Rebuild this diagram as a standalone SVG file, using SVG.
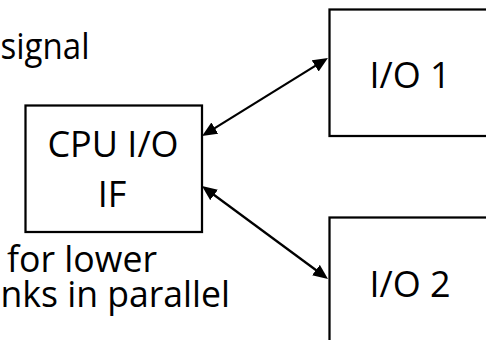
<svg xmlns="http://www.w3.org/2000/svg" width="486" height="340" viewBox="0 0 486 340">
  <style>
    .box { fill: #ffffff; stroke: #000000; stroke-width: 2.25; }
    .lbl { font-family: "Open Sans", "Noto Sans", "Liberation Sans", sans-serif; font-size: 36px; fill: #000000; }
    .link { stroke: #000000; stroke-width: 2.25; fill: none; marker-start: url(#head); marker-end: url(#head); }
  </style>
  <defs>
    <marker id="head" markerUnits="userSpaceOnUse" markerWidth="16" markerHeight="14" refX="10" refY="6.5" orient="auto-start-reverse">
      <path d="M0,0 L15,6.5 L0,13 z" fill="#000000"/>
    </marker>
  </defs>
  <rect x="0" y="0" width="486" height="340" fill="#ffffff"/>

  <!-- side notes -->
  <text class="lbl" x="0.5" y="59" textLength="89" lengthAdjust="spacingAndGlyphs">signal</text>
  <text class="lbl" x="7" y="272" textLength="150" lengthAdjust="spacingAndGlyphs">for lower</text>
  <text class="lbl" x="0.5" y="307" textLength="229.5" lengthAdjust="spacingAndGlyphs">nks in parallel</text>

  <g id="cpu-io-if">
    <rect class="box" x="25.5" y="105.5" width="176.5" height="126.5"/>
    <text class="lbl" x="113" y="157" text-anchor="middle">CPU I/O</text>
    <text class="lbl" x="112" y="207" text-anchor="middle">IF</text>
  </g>

  <g id="io1">
    <rect class="box" x="329.5" y="9.5" width="200" height="126.5"/>
    <text class="lbl" x="410" y="88" text-anchor="middle">I/O 1</text>
  </g>

  <g id="io2">
    <rect class="box" x="329.5" y="217.5" width="200" height="160"/>
    <text class="lbl" x="410" y="297" text-anchor="middle">I/O 2</text>
  </g>

  <g id="connectors">
    <line class="link" x1="206.3" y1="133.4" x2="323.7" y2="60.6"/>
    <line class="link" x1="206.0" y1="189.0" x2="324.0" y2="276.0"/>
  </g>
</svg>
